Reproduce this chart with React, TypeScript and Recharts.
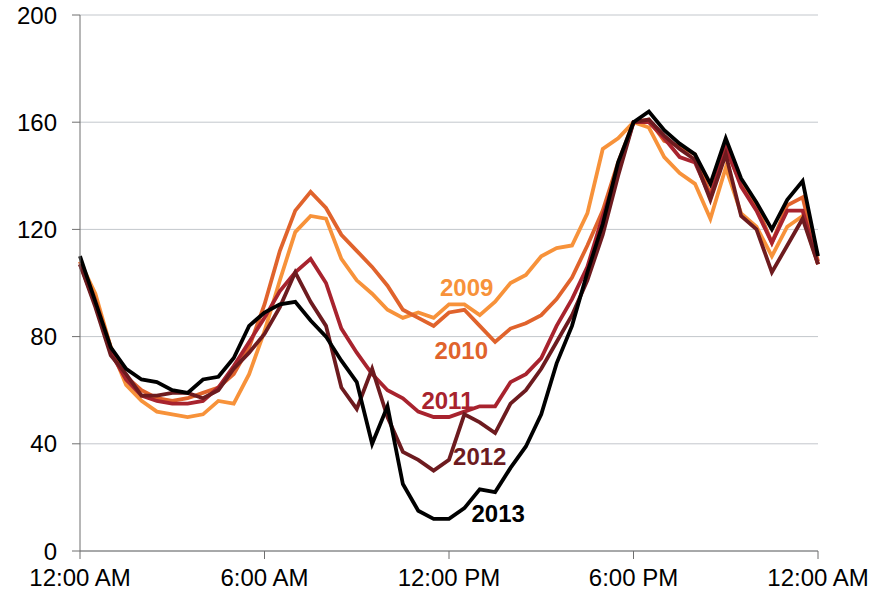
import { LineChart, Line, XAxis, YAxis, CartesianGrid, ReferenceDot } from "recharts";

// half-hour steps, 12:00 AM to 12:00 AM (49 points)
const y2009 = [108, 96, 76, 62, 56, 52, 51, 50, 51, 56, 55, 66, 82, 101, 119, 125, 124, 109, 101, 96, 90, 87, 89, 87, 92, 92, 88, 93, 100, 103, 110, 113, 114, 126, 150, 154, 160, 158, 147, 141, 137, 124, 143, 126, 121, 110, 121, 125, 107];
const y2010 = [108, 94, 76, 65, 60, 57, 56, 57, 59, 61, 66, 76, 92, 112, 127, 134, 128, 118, 112, 106, 99, 90, 87, 84, 89, 90, 84, 78, 83, 85, 88, 94, 102, 114, 127, 145, 160, 161, 153, 151, 148, 133, 150, 137, 129, 115, 129, 132, 108];
const y2011 = [107, 92, 74, 64, 58, 56, 55, 55, 56, 61, 69, 78, 87, 97, 104, 109, 100, 83, 74, 66, 60, 57, 52, 50, 50, 52, 54, 54, 63, 66, 72, 84, 94, 106, 125, 142, 160, 160, 154, 147, 145, 132, 151, 136, 127, 115, 127, 127, 107];
const y2012 = [107, 91, 73, 66, 58, 58, 59, 59, 57, 60, 68, 74, 81, 91, 104, 93, 84, 61, 53, 68, 50, 37, 34, 30, 34, 51, 48, 44, 55, 60, 68, 78, 88, 101, 118, 140, 160, 161, 155, 150, 146, 131, 148, 125, 120, 104, 114, 124, 107];
const y2013 = [110, 93, 76, 68, 64, 63, 60, 59, 64, 65, 72, 84, 89, 92, 93, 86, 80, 71, 63, 40, 54, 25, 15, 12, 12, 16, 23, 22, 31, 39, 51, 70, 84, 104, 122, 145, 160, 164, 157, 152, 148, 137, 154, 139, 130, 120, 131, 138, 110];

const years = ["2009", "2010", "2011", "2012", "2013"];
const colors = ["#F7923A", "#E0632C", "#A8232E", "#6D1B1F", "#000000"];
const series = [y2009, y2010, y2011, y2012, y2013];

const xTicks = [0, 12, 24, 36, 48];
const xTickLabels = ["12:00 AM", "6:00 AM", "12:00 PM", "6:00 PM", "12:00 AM"];
const yTicks = [0, 40, 80, 120, 160, 200];

// where each year's name sits (x in half-hour steps, y in value)
const labelX = [25.15, 24.8, 23.9, 26.0, 27.2];
const labelY = [98.4, 74.9, 56.3, 35.2, 14.0];

const data = y2009.map((_, i) => {
  const row: Record<string, number> = { i };
  years.forEach((yr, k) => (row[yr] = series[k][i]));
  return row;
});

const font = "Liberation Sans, Arial, sans-serif";

export default function App() {
  return (
    <div style={{ position: "absolute", left: 0, top: 0, width: 883, height: 593, background: "#fff", fontFamily: font }}>
      <LineChart width={883} height={593} data={data} margin={{ top: 15, right: 65, bottom: 0, left: 0 }}>
        <CartesianGrid vertical={false} stroke="#c3c7cc" strokeWidth={1} />
        <XAxis
          dataKey="i"
          type="number"
          domain={[0, 48]}
          ticks={xTicks}
          tickFormatter={(v: number) => xTickLabels[xTicks.indexOf(v)]}
          height={42}
          stroke="#6f6f6f"
          tickSize={8}
          tickMargin={10}
          tick={{ fill: "#000", fontSize: 24, fontFamily: font }}
          interval={0}
        />
        <YAxis
          domain={[0, 200]}
          ticks={yTicks}
          width={80}
          stroke="#6f6f6f"
          tickSize={8}
          tickMargin={15}
          tick={{ fill: "#000", fontSize: 24, fontFamily: font }}
          interval={0}
        />
        {years.map((yr, k) => (
          <Line
            key={yr}
            type="linear"
            dataKey={yr}
            stroke={colors[k]}
            strokeWidth={3.8}
            dot={false}
            activeDot={false}
            isAnimationActive={false}
          />
        ))}
        {years.map((yr, k) => (
          <ReferenceDot
            key={"l" + yr}
            x={labelX[k]}
            y={labelY[k]}
            r={0}
            fill="none"
            stroke="none"
            label={{ value: yr, position: "center", fill: colors[k], fontSize: 24, fontWeight: "bold", fontFamily: font }}
          />
        ))}
      </LineChart>
    </div>
  );
}
